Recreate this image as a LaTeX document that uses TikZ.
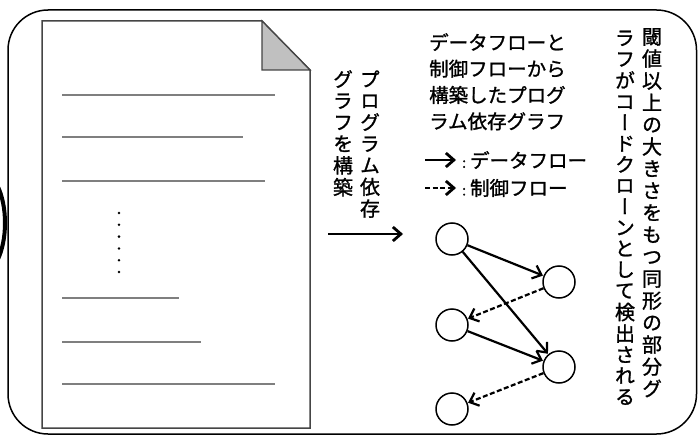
\documentclass[tikz,border=0pt]{standalone}
\usepackage{fontspec}
\usetikzlibrary{arrows.meta}
\newfontfamily\jp[FakeBold=1.2]{Noto Sans CJK JP}
\newfontfamily\jpv[RawFeature=+vert,FakeBold=1.2]{Noto Sans CJK JP}
\newdimen\vcp
\vcp=21.5pt
\makeatletter
\def\vcol#1{\vbox{\offinterlineskip\vcol@loop#1\@nil}}
\def\vcol@loop#1{\ifx#1\@nil\else\hbox to 1em{\hss\vrule height 0.77\vcp depth 0.23\vcp width 0pt\relax#1\hss}\expandafter\vcol@loop\fi}
\makeatother
\definecolor{docline}{HTML}{7F7F7F}
\definecolor{docedge}{HTML}{454545}
\definecolor{foldgray}{HTML}{C0C0C0}
\tikzset{
  txt/.style={inner sep=0pt, font=\jp\fontsize{19.5}{26.3}\selectfont},
  vtxt/.style={inner sep=0pt, anchor=north, font=\jpv\fontsize{20}{21.5}\selectfont},
  gnode/.style={circle, draw=black, line width=1.5pt, minimum size=32pt, inner sep=0pt},
  dline/.style={draw=docline, line width=1.3pt},
  flow/.style={line width=2.2pt, -{Straight Barb[length=8pt,width=14pt,line width=2.2pt]}, shorten >=0.5pt},
  ctrl/.style={flow, dash pattern=on 5pt off 2.5pt},
  legend/.style={line width=2.8pt, -{Straight Barb[length=8pt,width=14pt,line width=2.8pt]}},
}
\begin{document}
\begin{tikzpicture}[x=1pt,y=-1pt]
\useasboundingbox (0,0) rectangle (699,436);
% outer rounded frame
\draw[line width=1.5pt, rounded corners=40pt] (8,10) rectangle (696.5,434);
% thick arc at far left
\draw[line width=4pt] (-20,223) ellipse [x radius=25, y radius=52];
% document
\fill[white] (42,21) -- (262,21) -- (310,70) -- (310,428) -- (42,428) -- cycle;
\draw[docedge, line width=1.5pt] (42,21) -- (262,21) -- (310,70) -- (310,428) -- (42,428) -- cycle;
\filldraw[fill=foldgray, draw=docedge, line width=1.3pt] (262,21) -- (262,70) -- (310,70) -- cycle;
\draw[dline] (62,95) -- (275,95);
\draw[dline] (62,137) -- (243,137);
\draw[dline] (62,181) -- (265,181);
\draw[dline] (62,298) -- (179,298);
\draw[dline] (62,342) -- (201,342);
\draw[dline] (62,384) -- (275,384);
\foreach \k in {0,...,5} \fill (119,213+11.8*\k) circle (1.4pt);
% build arrow and its label
\node[vtxt] (lab1) at (370,70) {\vcol{プログラム依存}};
\node[vtxt] (lab2) at (343,70) {\vcol{グラフを構築}};
\coordinate (a0) at (328,234);
\coordinate (a1) at (403,234);
\draw[legend, line width=2.2pt] (a0) -- (a1);
% description
\node[txt, anchor=north west, align=left] (desc) at (429,33) {データフローと\\制御フローから\\構築したプログ\\ラム依存グラフ};
% legend
\coordinate (l1a) at (425,160);
\coordinate (l1b) at (456,160);
\coordinate (l2a) at (425,188);
\coordinate (l2b) at (456,188);
\draw[legend] (l1a) -- (l1b);
\draw[legend, dash pattern=on 5pt off 2.5pt] (l2a) -- (l2b);
\node[txt, anchor=west] (leg1) at (462,160) {{\fontsize{14}{14}\selectfont:}\hspace{4pt}データフロー};
\node[txt, anchor=west] (leg2) at (462,188) {{\fontsize{14}{14}\selectfont:}\hspace{4pt}制御フロー};
% graph
\node[gnode] (n1) at (452,239) {};
\node[gnode] (n2) at (559,282) {};
\node[gnode] (n3) at (452,325) {};
\node[gnode] (n4) at (559,367) {};
\node[gnode] (n5) at (452,409) {};
\draw[flow] (n1) -- (n2);
\draw[ctrl] (n2) -- (n3);
\draw[flow] (n1) -- (n4);
\draw[flow] (n3) -- (n4);
\draw[ctrl] (n4) -- (n5);
% right conclusion
\vcp=22pt
\node[vtxt] (con1) at (652,27) {\vcol{閾値以上の大きさをもつ同形の部分グ}};
\vcp=21pt
\node[vtxt] (con2) at (625,29) {\vcol{ラフがコードクローンとして検出される}};
\end{tikzpicture}
\end{document}
